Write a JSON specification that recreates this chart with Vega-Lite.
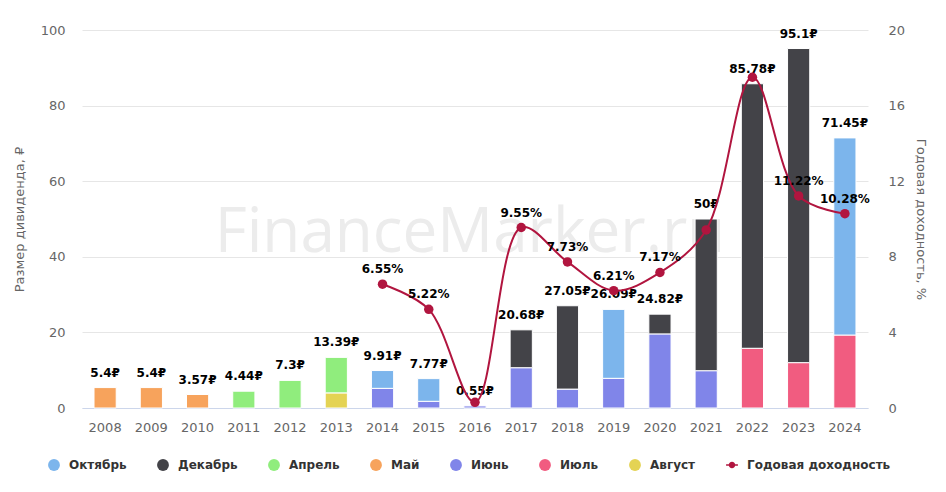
{
  "$schema": "https://vega.github.io/schema/vega-lite/v6.json",
  "width": 786,
  "height": 378,
  "autosize": {"type": "none"},
  "padding": {"left": 82, "top": 30, "right": 78, "bottom": 84},
  "background": "white",
  "config": {
    "view": {"stroke": null},
    "font": "DejaVu Sans",
    "axis": {
      "labelFont": "DejaVu Sans",
      "labelFontSize": 13,
      "labelColor": "#666666",
      "titleFont": "DejaVu Sans",
      "titleFontSize": 13,
      "titleColor": "#666666",
      "titleFontWeight": "normal",
      "ticks": false,
      "domain": false,
      "gridColor": "#e6e6e6"
    },
    "legend": {
      "title": null,
      "orient": "none",
      "legendX": -34,
      "legendY": 429,
      "direction": "horizontal",
      "symbolSize": 140,
      "symbolStrokeWidth": 0,
      "labelFont": "DejaVu Sans",
      "labelFontSize": 12,
      "labelFontWeight": "bold",
      "labelColor": "#333333",
      "labelOffset": 9,
      "columnPadding": 30
    }
  },
  "datasets": {
    "divs": [
      {"year": "2008", "month": "Май", "value": 5.4},
      {"year": "2009", "month": "Май", "value": 5.4},
      {"year": "2010", "month": "Май", "value": 3.57},
      {"year": "2011", "month": "Апрель", "value": 4.44},
      {"year": "2012", "month": "Апрель", "value": 7.3},
      {"year": "2013", "month": "Август", "value": 4.0},
      {"year": "2013", "month": "Апрель", "value": 9.39},
      {"year": "2014", "month": "Июнь", "value": 5.2},
      {"year": "2014", "month": "Октябрь", "value": 4.71},
      {"year": "2015", "month": "Июнь", "value": 1.77},
      {"year": "2015", "month": "Октябрь", "value": 6.0},
      {"year": "2016", "month": "Июнь", "value": 0.55},
      {"year": "2017", "month": "Июнь", "value": 10.66},
      {"year": "2017", "month": "Декабрь", "value": 10.02},
      {"year": "2018", "month": "Июнь", "value": 5.0},
      {"year": "2018", "month": "Декабрь", "value": 22.05},
      {"year": "2019", "month": "Июнь", "value": 7.85},
      {"year": "2019", "month": "Октябрь", "value": 18.24},
      {"year": "2020", "month": "Июнь", "value": 19.6},
      {"year": "2020", "month": "Декабрь", "value": 5.22},
      {"year": "2021", "month": "Июнь", "value": 9.87},
      {"year": "2021", "month": "Декабрь", "value": 40.13},
      {"year": "2022", "month": "Июль", "value": 15.8},
      {"year": "2022", "month": "Декабрь", "value": 69.98},
      {"year": "2023", "month": "Июль", "value": 12.0},
      {"year": "2023", "month": "Декабрь", "value": 83.1},
      {"year": "2024", "month": "Июль", "value": 19.3},
      {"year": "2024", "month": "Октябрь", "value": 52.15}
    ],
    "yields": [
      {"year": "2014", "pct": 6.55, "label": "6.55%"},
      {"year": "2015", "pct": 5.22, "label": "5.22%"},
      {"year": "2016", "pct": 0.3, "label": ""},
      {"year": "2017", "pct": 9.55, "label": "9.55%"},
      {"year": "2018", "pct": 7.73, "label": "7.73%"},
      {"year": "2019", "pct": 6.21, "label": "6.21%"},
      {"year": "2020", "pct": 7.17, "label": "7.17%"},
      {"year": "2021", "pct": 9.42, "label": ""},
      {"year": "2022", "pct": 17.5, "label": ""},
      {"year": "2023", "pct": 11.22, "label": "11.22%"},
      {"year": "2024", "pct": 10.28, "label": "10.28%"}
    ],
    "wm": [{"text": "FinanceMarker.ru"}]
  },
  "layer": [
    {
      "layer": [
        {
          "data": {"name": "wm"},
          "mark": {"type": "text", "font": "Open Sans", "fontSize": 62, "color": "#ececec", "align": "center", "baseline": "alphabetic", "dx": -5},
          "encoding": {
            "x": {"datum": "2016", "type": "nominal"},
            "y": {"datum": 41.3, "type": "quantitative"},
            "text": {"field": "text"}
          }
        },
        {
          "data": {"name": "divs"},
          "transform": [
            {"calculate": "indexof(['Август','Июль','Июнь','Май','Апрель','Декабрь','Октябрь'], datum.month)", "as": "ord"}
          ],
          "mark": {"type": "bar", "stroke": "white", "strokeWidth": 1},
          "encoding": {
            "x": {
              "field": "year", "type": "nominal",
              "scale": {"paddingInner": 0.52, "paddingOuter": 0.26},
              "axis": {"title": null, "labelAngle": 0, "labelAlign": "center", "labelBaseline": "top", "domain": true, "domainColor": "#ccd6eb", "labelPadding": 13, "grid": false}
            },
            "y": {
              "field": "value", "type": "quantitative", "stack": "zero",
              "scale": {"domain": [0, 100], "nice": false},
              "axis": {"title": "Размер дивиденда, ₽", "values": [0, 20, 40, 60, 80, 100], "grid": true, "labelPadding": 17, "titlePadding": 14}
            },
            "color": {
              "field": "month", "type": "nominal",
              "scale": {
                "domain": ["Октябрь", "Декабрь", "Апрель", "Май", "Июнь", "Июль", "Август", "Годовая доходность"],
                "range": ["#7cb5ec", "#434348", "#90ed7d", "#f7a35c", "#8085e9", "#f15c80", "#e4d354", "#b1153f"]
              },
              "legend": {
                "encode": {
                  "symbols": {
                    "enter": {
                      "shape": {"signal": "datum.value === 'Годовая доходность' ? 'M-1,-0.13H1V0.13H-1Z M0.55,0A0.55,0.55 0 1 1 -0.55,0A0.55,0.55 0 1 1 0.55,0Z' : 'circle'"}
                    },
                    "update": {
                      "shape": {"signal": "datum.value === 'Годовая доходность' ? 'M-1,-0.13H1V0.13H-1Z M0.55,0A0.55,0.55 0 1 1 -0.55,0A0.55,0.55 0 1 1 0.55,0Z' : 'circle'"},
                      "fill": {"signal": "scale('color', datum.value)"},
                      "opacity": {"value": 1}
                    }
                  }
                }
              }
            },
            "order": {"field": "ord"}
          }
        },
        {
          "data": {"name": "divs"},
          "transform": [
            {"aggregate": [{"op": "sum", "field": "value", "as": "total"}], "groupby": ["year"]},
            {"calculate": "format(datum.total, '.4~g') + '₽'", "as": "label"}
          ],
          "mark": {"type": "text", "font": "DejaVu Sans", "fontWeight": "bold", "fontSize": 12, "dy": -15, "baseline": "middle", "color": "#000000"},
          "encoding": {
            "x": {"field": "year", "type": "nominal"},
            "y": {"field": "total", "type": "quantitative"},
            "text": {"field": "label"}
          }
        }
      ]
    },
    {
      "data": {"name": "yields"},
      "layer": [
        {
          "mark": {"type": "line", "interpolate": "catmull-rom", "strokeWidth": 2},
          "encoding": {
            "x": {"field": "year", "type": "nominal"},
            "y": {
              "field": "pct", "type": "quantitative",
              "scale": {"domain": [0, 20], "nice": false},
              "axis": {"orient": "right", "title": "Годовая доходность, %", "values": [0, 4, 8, 12, 16, 20], "grid": false, "labelPadding": 20, "titlePadding": 9}
            },
            "color": {
              "datum": "Годовая доходность", "type": "nominal",
              "legend": {
                "encode": {
                  "symbols": {
                    "update": {
                      "shape": {"signal": "datum.value === 'Годовая доходность' ? 'M-1,-0.13H1V0.13H-1Z M0.55,0A0.55,0.55 0 1 1 -0.55,0A0.55,0.55 0 1 1 0.55,0Z' : 'circle'"},
                      "fill": {"signal": "scale('color', datum.value)"},
                      "opacity": {"value": 1}
                    }
                  }
                }
              }
            }
          }
        },
        {
          "mark": {"type": "circle", "size": 90, "opacity": 1},
          "encoding": {
            "x": {"field": "year", "type": "nominal"},
            "y": {"field": "pct", "type": "quantitative"},
            "color": {
              "datum": "Годовая доходность", "type": "nominal",
              "legend": {
                "encode": {
                  "symbols": {
                    "update": {
                      "shape": {"signal": "datum.value === 'Годовая доходность' ? 'M-1,-0.13H1V0.13H-1Z M0.55,0A0.55,0.55 0 1 1 -0.55,0A0.55,0.55 0 1 1 0.55,0Z' : 'circle'"},
                      "fill": {"signal": "scale('color', datum.value)"},
                      "opacity": {"value": 1}
                    }
                  }
                }
              }
            }
          }
        },
        {
          "mark": {"type": "text", "font": "DejaVu Sans", "fontWeight": "bold", "fontSize": 12, "dy": -15, "baseline": "middle", "color": "#000000"},
          "encoding": {
            "x": {"field": "year", "type": "nominal"},
            "y": {"field": "pct", "type": "quantitative"},
            "text": {"field": "label"}
          }
        }
      ]
    }
  ],
  "resolve": {"scale": {"y": "independent"}}
}
